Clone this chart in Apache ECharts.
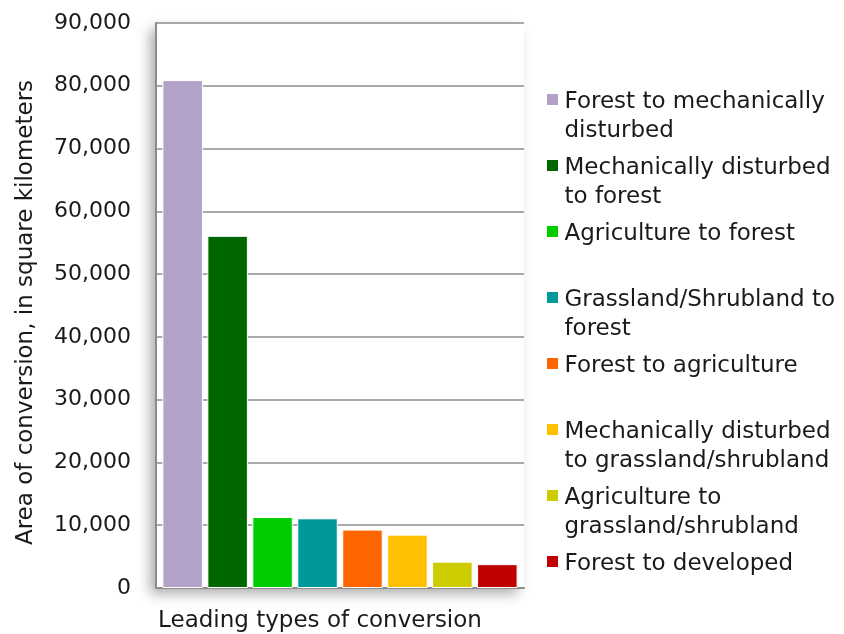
<!DOCTYPE html>
<html>
<head>
<meta charset="utf-8">
<style>
  html, body { margin: 0; padding: 0; background: #fff; }
  #chart { width: 844px; height: 634px; }
</style>
<script src="https://cdn.jsdelivr.net/npm/echarts@6/dist/echarts.min.js"></script>
</head>
<body>
<div id="chart"></div>
<script>
// Leading land-cover conversions, area in square kilometers
const conversionTypes = [
  'Forest to mechanically disturbed',
  'Mechanically disturbed to forest',
  'Agriculture to forest',
  'Grassland/Shrubland to forest',
  'Forest to agriculture',
  'Mechanically disturbed to grassland/shrubland',
  'Agriculture to grassland/shrubland',
  'Forest to developed'
];
const areaKm2 = [80900, 56100, 11300, 11100, 9300, 8500, 4200, 3800];
const barColors = ['#B3A2C7', '#006600', '#00CC00', '#009999', '#FF6600', '#FFC000', '#CCCC00', '#C00000'];
// Legend text, wrapped the way each entry is laid out (every entry takes two lines)
const legendLines = [
  'Forest to mechanically\ndisturbed',
  'Mechanically disturbed\nto forest',
  'Agriculture to forest\n ',
  'Grassland/Shrubland to\nforest',
  'Forest to agriculture\n ',
  'Mechanically disturbed\nto grassland/shrubland',
  'Agriculture to\ngrassland/shrubland',
  'Forest to developed\n '
];
const yTicks = { min: 0, max: 90000, interval: 10000 };

const FONT = 'DejaVu Sans';
const TEXT = '#1a1a1a';
const GRID_GRAY = '#8c8c8c';

const chart = echarts.init(document.getElementById('chart'), null, { renderer: 'canvas' });

const series = conversionTypes.map((name, i) => ({
  name: name,
  type: 'bar',
  data: [areaKm2[i]],
  barWidth: 40.5,
  barGap: '11%',
  itemStyle: { color: barColors[i], borderColor: '#ffffff', borderWidth: 1 },
  emphasis: { disabled: true }
}));

chart.setOption({
  animation: false,
  backgroundColor: '#ffffff',
  grid: {
    left: 156, top: 23, width: 368, height: 565,
    outerBoundsMode: 'none',
    containLabel: false,
    show: true,
    backgroundColor: '#ffffff',
    borderWidth: 0,
    shadowColor: 'rgba(0,0,0,0.32)',
    shadowBlur: 12,
    shadowOffsetX: -6,
    shadowOffsetY: 6
  },
  legend: {
    orient: 'vertical',
    left: 545,
    top: 86,
    padding: 0,
    itemGap: 5,
    itemWidth: 14,
    itemHeight: 59,
    // square marker sits beside the first text line of each entry
    icon: 'path://M0,0h0.01v0.01h-0.01z M0,6h13v13h-13z M0,59h0.01v0.01h-0.01z',
    data: conversionTypes,
    formatter: name => legendLines[conversionTypes.indexOf(name)],
    textStyle: { fontFamily: FONT, fontSize: 23, color: TEXT, lineHeight: 29.5 },
    selectedMode: false
  },
  xAxis: {
    type: 'category',
    data: [''],
    name: 'Leading types of conversion',
    nameLocation: 'middle',
    nameGap: 22,
    nameTextStyle: { fontFamily: FONT, fontSize: 23, color: TEXT, padding: [0, 40, 0, 0] },
    axisLine: { show: true, lineStyle: { color: GRID_GRAY, width: 2 } },
    axisTick: { show: false },
    axisLabel: { show: false }
  },
  yAxis: {
    type: 'value',
    min: yTicks.min,
    max: yTicks.max,
    interval: yTicks.interval,
    name: 'Area of conversion, in square kilometers',
    nameLocation: 'middle',
    nameGap: 118,
    nameTextStyle: { fontFamily: FONT, fontSize: 23, color: TEXT, padding: [0, 14, 0, 0] },
    axisLine: { show: true, lineStyle: { color: GRID_GRAY, width: 2 } },
    axisTick: { show: false },
    axisLabel: {
      margin: 25,
      fontFamily: FONT,
      fontSize: 22,
      color: TEXT,
      formatter: v => v.toLocaleString('en-US')
    },
    splitLine: { show: true, lineStyle: { color: GRID_GRAY, width: 1.5 } }
  },
  series: series
});
</script>
</body>
</html>
